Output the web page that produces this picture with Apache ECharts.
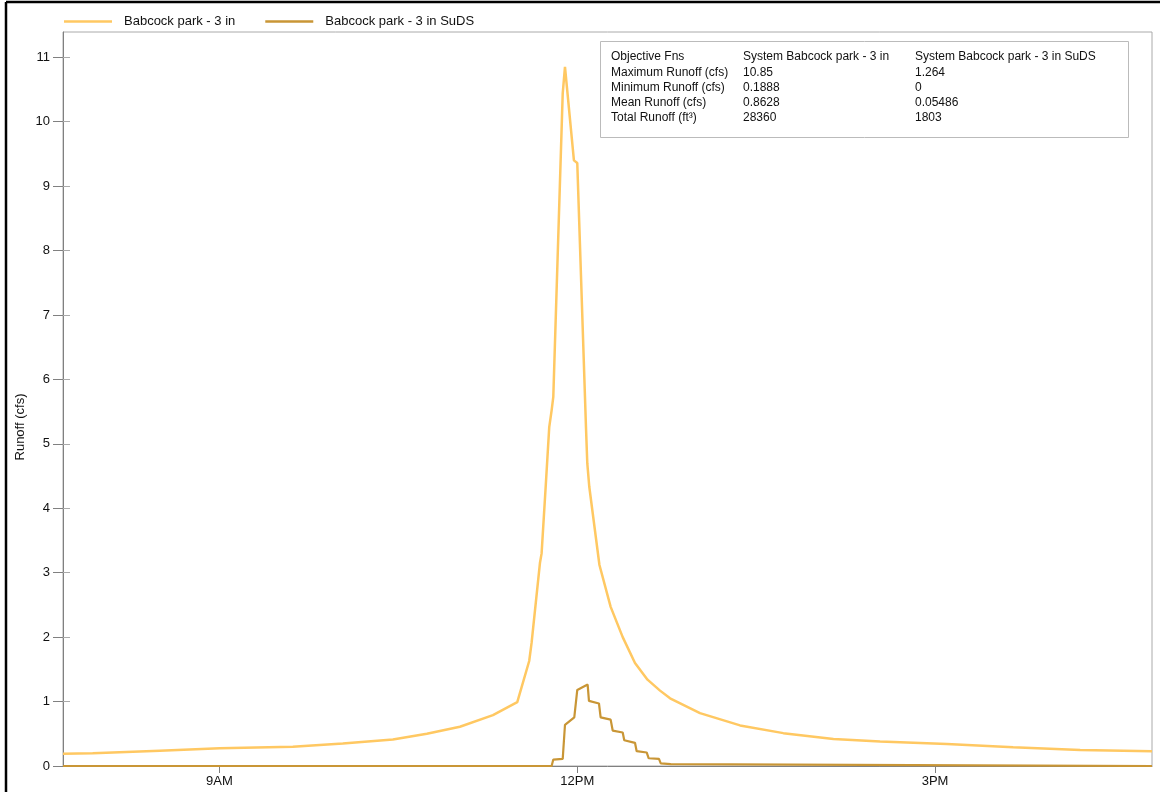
<!DOCTYPE html>
<html>
<head>
<meta charset="utf-8">
<title>Babcock park runoff</title>
<script src="https://cdn.jsdelivr.net/npm/echarts@6/dist/echarts.min.js"></script>
<style>
  html, body { margin: 0; padding: 0; background: #fff; }
  #chart { width: 1160px; height: 792px; }
</style>
</head>
<body>
<div id="chart"></div>
<script>
// time in decimal hours, runoff in cfs
const seriesNames = ['Babcock park - 3 in', 'Babcock park - 3 in SuDS'];

const baseHours = [
  7.688, 7.937, 8.499, 9.002, 9.615, 10.034, 10.454, 10.739, 11.016, 11.293,
  11.497, 11.597, 11.617, 11.687, 11.701, 11.735, 11.765, 11.785, 11.799, 11.878,
  11.897, 11.972, 12.0, 12.073, 12.084, 12.101, 12.186, 12.28, 12.381, 12.484,
  12.589, 12.694, 12.778, 13.029, 13.365, 13.728, 14.148, 14.539, 15.099, 15.655,
  16.217, 16.819
];
const baseRunoff = [
  0.189, 0.197, 0.238, 0.274, 0.30, 0.35, 0.41, 0.50, 0.61, 0.79,
  0.99, 1.63, 1.91, 3.15, 3.30, 4.33, 5.26, 5.52, 5.73, 10.44,
  10.85, 9.40, 9.36, 5.26, 4.70, 4.33, 3.12, 2.47, 2.00, 1.60,
  1.34, 1.17, 1.05, 0.82, 0.63, 0.51, 0.42, 0.38, 0.34, 0.29,
  0.25, 0.23
];

const sudsHours = [
  7.688, 11.785, 11.799, 11.878, 11.897, 11.975, 12.0, 12.087, 12.098, 12.182,
  12.196, 12.28, 12.297, 12.381, 12.394, 12.484, 12.498, 12.582, 12.599, 12.685,
  12.7, 12.784, 12.797, 16.819
];
const sudsRunoff = [
  0, 0, 0.10, 0.11, 0.64, 0.755, 1.18, 1.264, 1.01, 0.97,
  0.755, 0.72, 0.55, 0.52, 0.40, 0.36, 0.23, 0.21, 0.12, 0.11,
  0.04, 0.03, 0, 0
];

const xTickHours = [9, 12, 15];
const xTickLabels = ['9AM', '12PM', '3PM'];
const yTicks = [0, 1, 2, 3, 4, 5, 6, 7, 8, 9, 10, 11];

const tableHeader = ['Objective Fns', 'System Babcock park - 3 in', 'System Babcock park - 3 in SuDS'];
const tableRows = [
  ['Maximum Runoff (cfs)', '10.85', '1.264'],
  ['Minimum Runoff (cfs)', '0.1888', '0'],
  ['Mean Runoff (cfs)', '0.8628', '0.05486'],
  ['Total Runoff (ft\u00b3)', '28360', '1803']
];

const FONT = '"Liberation Sans", Arial, sans-serif';
const zip = (xs, ys) => xs.map((x, i) => [x, ys[i]]);

// stats box drawn as graphic texts
const colX = [611, 743, 915];
const tableTexts = [];
[tableHeader].concat(tableRows).forEach((row, r) => {
  row.forEach((cell, c) => {
    tableTexts.push({
      type: 'text',
      x: colX[c],
      y: 57 + r * 15.25,
      z: 11,
      style: {
        text: cell,
        fill: '#111',
        font: '12px ' + FONT,
        verticalAlign: 'middle'
      }
    });
  });
});

const chart = echarts.init(document.getElementById('chart'));

const option = {
  animation: false,
  backgroundColor: '#fff',
  textStyle: { fontFamily: FONT },
  legend: {
    left: 59,
    top: 10,
    icon: 'rect',
    itemWidth: 48,
    itemHeight: 2.5,
    itemGap: 30,
    textStyle: { fontSize: 13, color: '#111', padding: [0, 0, 0, 7] },
    data: seriesNames
  },
  grid: {
    left: 63,
    right: 8,
    top: 32,
    bottom: 26,
    show: true,
    borderColor: '#aaa',
    borderWidth: 1
  },
  xAxis: {
    type: 'value',
    min: baseHours[0],
    max: baseHours[baseHours.length - 1],
    splitLine: { show: false },
    axisLine: { lineStyle: { color: '#808080' } },
    axisTick: {
      customValues: xTickHours,
      length: 7,
      lineStyle: { color: '#808080' }
    },
    axisLabel: {
      customValues: xTickHours,
      color: '#111',
      fontSize: 13,
      margin: 9,
      formatter: v => xTickLabels[xTickHours.indexOf(v)]
    }
  },
  yAxis: [
    {
      type: 'value',
      min: 0,
      max: 11.3925,
      splitLine: { show: false },
      axisLine: { show: true, lineStyle: { color: '#808080' } },
      axisTick: {
        customValues: yTicks,
        length: 10,
        lineStyle: { color: '#808080' }
      },
      axisLabel: {
        customValues: yTicks,
        color: '#111',
        fontSize: 13,
        margin: 13
      }
    },
    {
      type: 'value',
      position: 'left',
      min: 0,
      max: 11.3925,
      splitLine: { show: false },
      axisLine: { show: false },
      axisTick: {
        customValues: yTicks,
        inside: true,
        length: 7,
        lineStyle: { color: '#aaa' }
      },
      axisLabel: { show: false }
    }
  ],
  series: [
    {
      name: seriesNames[0],
      type: 'line',
      symbol: 'none',
      data: zip(baseHours, baseRunoff),
      lineStyle: { color: '#FFC862', width: 2.5 },
      itemStyle: { color: '#FFC862' },
      z: 2
    },
    {
      name: seriesNames[1],
      type: 'line',
      symbol: 'none',
      data: zip(sudsHours, sudsRunoff),
      lineStyle: { color: '#C99636', width: 2.2 },
      itemStyle: { color: '#C99636' },
      z: 3
    }
  ],
  graphic: [
    // outer frame
    { type: 'line', shape: { x1: 6, y1: 2, x2: 6, y2: 792 }, style: { stroke: '#000', lineWidth: 2.5 } },
    { type: 'line', shape: { x1: 6, y1: 2, x2: 1160, y2: 2 }, style: { stroke: '#000', lineWidth: 2.5 } },
    {
      type: 'text',
      x: 20,
      y: 427,
      rotation: Math.PI / 2,
      style: {
        text: 'Runoff (cfs)',
        fill: '#111',
        font: '13px ' + FONT,
        align: 'center',
        verticalAlign: 'middle'
      }
    },
    {
      type: 'rect',
      shape: { x: 600.5, y: 41.5, width: 528, height: 96 },
      style: { fill: '#fff', stroke: '#bbb', lineWidth: 1 },
      z: 10
    }
  ].concat(tableTexts)
};

chart.setOption(option);
window.addEventListener('resize', chart.resize);
</script>
</body>
</html>
